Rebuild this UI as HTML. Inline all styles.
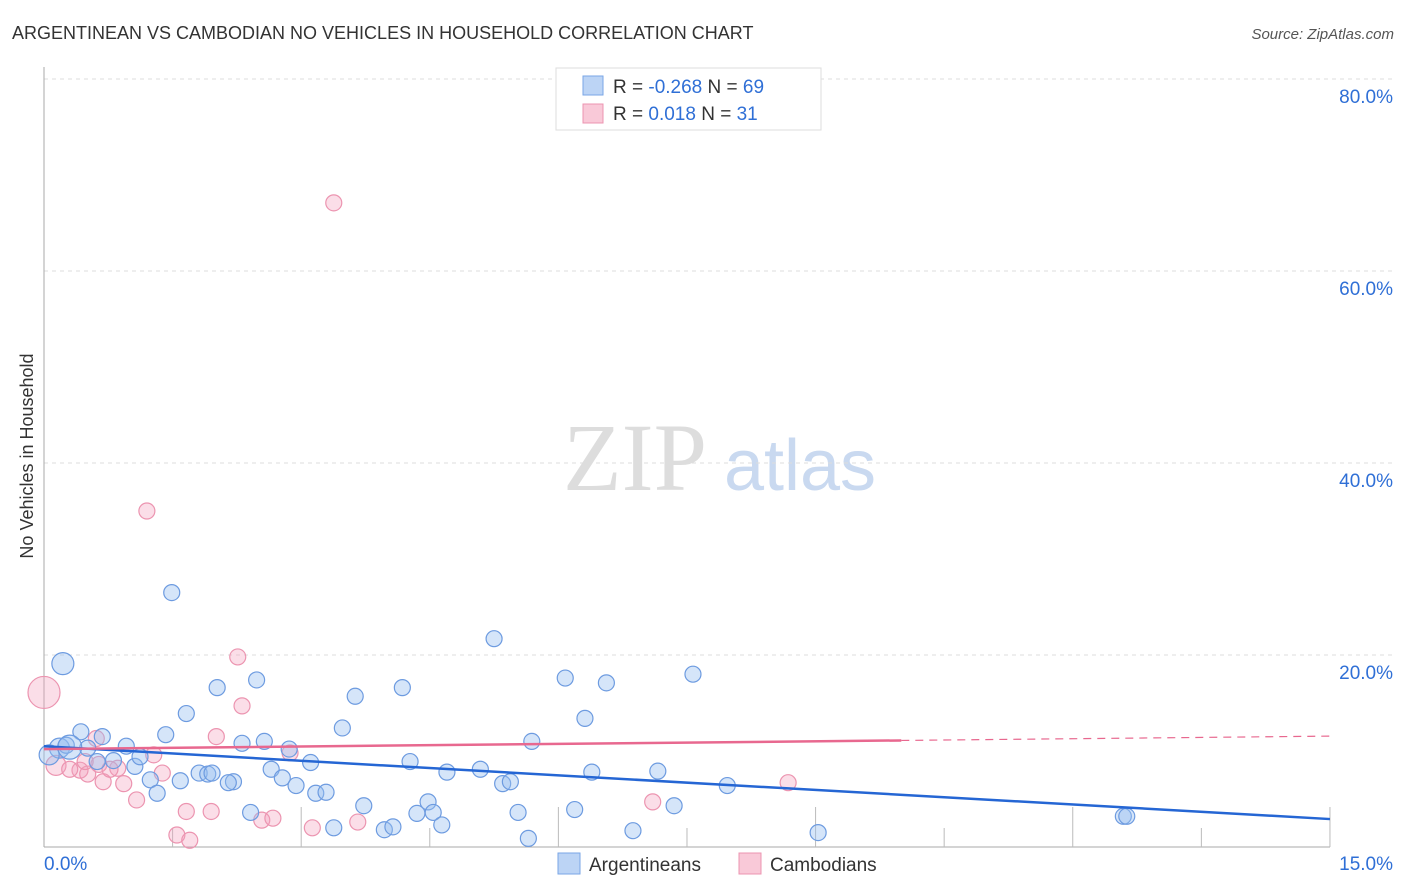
<!DOCTYPE html>
<html><head><meta charset="utf-8"><style>
body{margin:0;background:#fff;font-family:"Liberation Sans",sans-serif;}
svg{display:block}
</style></head><body>
<svg width="1406" height="892" id="chart">
<text x="12" y="39" font-size="18" fill="#333">ARGENTINEAN VS CAMBODIAN NO VEHICLES IN HOUSEHOLD CORRELATION CHART</text>
<text x="1394" y="39" font-size="15" fill="#555" font-style="italic" text-anchor="end">Source: ZipAtlas.com</text>
<text x="33" y="456" font-size="18" fill="#333" text-anchor="middle" transform="rotate(-90 33 456)">No Vehicles in Household</text>
<g><text x="635" y="490" font-size="96" fill="#ddd" font-family="Liberation Serif,serif" text-anchor="middle">ZIP</text><text x="800" y="490" font-size="72" fill="#c9d9f0" text-anchor="middle">atlas</text></g>
<g id="grid"></g><g id="marks"></g>
<g>
<rect x="556" y="68" width="265" height="62" fill="#fff" stroke="#ddd"/>
<rect x="583" y="76" width="20" height="19" fill="#bcd4f5" stroke="#7aa6e6"/>
<rect x="583" y="104" width="20" height="19" fill="#f9c9d8" stroke="#ec94b0"/>
<text x="613" y="93" font-size="19" fill="#333">R = <tspan fill="#2f6fd6">-0.268</tspan>   N = <tspan fill="#2f6fd6">69</tspan></text>
<text x="613" y="120" font-size="19" fill="#333">R =   <tspan fill="#2f6fd6">0.018</tspan>   N =  <tspan fill="#2f6fd6">31</tspan></text>
</g>
<g>
<rect x="558" y="853" width="22" height="21" fill="#bcd4f5" stroke="#7aa6e6"/>
<text x="589" y="871" font-size="19" fill="#333">Argentineans</text>
<rect x="739" y="853" width="22" height="21" fill="#f9c9d8" stroke="#ec94b0"/>
<text x="770" y="871" font-size="19" fill="#333">Cambodians</text>
</g>
</svg>
<script>
const yTicks=[0,20,40,60,80];
const yTickLabels=["","20.0%","40.0%","60.0%","80.0%"];
const xLabels=["0.0%","15.0%"];
const argX=[0.22,1.49,5.25,6.08,6.56,7.57,2.48,2.02,4.18,3.63,1.66,6.31,0.43,0.68,1.42,3.48,0.96,2.31,2.57,5.69,2.86,0.18,0.06,0.51,0.26,0.62,0.81,1.06,1.12,2.65,3.11,4.27,4.7,5.09,5.35,5.44,6.39,7.16,7.97,1.81,1.91,1.96,1.24,1.59,2.21,2.15,2.78,2.94,1.32,3.17,3.29,3.73,2.41,4.48,4.35,4.54,5.53,6.19,7.35,12.59,12.63,3.38,3.97,4.07,4.64,5.65,6.87,9.03,0.3];
const argY=[19.1,26.5,21.7,17.6,17.1,18.0,17.4,16.6,16.6,15.7,13.9,13.4,12.0,11.5,11.7,12.4,10.5,10.8,11.0,11.0,10.2,10.3,9.6,10.3,10.6,8.9,9.0,8.4,9.4,8.1,8.8,8.9,7.8,8.1,6.6,6.8,7.8,7.9,6.4,7.7,7.6,7.7,7.0,6.9,6.8,6.7,7.2,6.4,5.6,5.6,5.7,4.3,3.6,4.7,3.5,3.6,3.6,3.9,4.3,3.2,3.2,2.0,1.8,2.1,2.3,0.9,1.7,1.5,10.4];
const argR=[11,8,8,8,8,8,8,8,8,8,8,8,8,8,8,8,8,8,8,8,8,10,10,8,8,8,8,8,8,8,8,8,8,8,8,8,8,8,8,8,8,8,8,8,8,8,8,8,8,8,8,8,8,8,8,8,8,8,8,8,8,8,8,8,8,8,8,8,12];
const camX=[3.38,1.2,2.26,0,2.31,2.01,1.28,2.87,0.61,0.14,0.42,0.3,0.51,0.69,0.93,1.38,0.86,0.64,1.08,1.66,1.95,2.54,2.67,3.13,3.66,1.55,1.7,7.1,8.68,0.48,0.77];
const camY=[67.1,35.0,19.8,16.1,14.7,11.5,9.6,9.8,11.3,8.5,8.0,8.1,7.6,6.8,6.6,7.7,8.2,8.6,4.9,3.7,3.7,2.8,3.0,2.0,2.6,1.25,0.7,4.7,6.7,8.9,8.1];
const camR=[8,8,8,16,8,8,8,8,8,10,8,8,8,8,8,8,8,8,8,8,8,8,8,8,8,8,8,8,8,8,8];
const argLine=[10.5,-0.506];
const camLine=[10.2,0.09];
const X=v=>44+v*85.73, Y=v=>847-v*9.6;
const NS="http://www.w3.org/2000/svg";
const grid=document.getElementById('grid'), marks=document.getElementById('marks');
function mk(p,tag,a){const e=document.createElementNS(NS,tag);for(const k in a)e.setAttribute(k,a[k]);p.appendChild(e);return e;}
yTicks.forEach((t,i)=>{if(t>0){const l=mk(grid,'line',{x1:44,x2:1394,y1:Y(t),y2:Y(t),stroke:'#ddd','stroke-dasharray':'4 4'});


const tx=mk(grid,'text',{x:1393,y:Y(t)+24,'font-size':19,fill:'#2f6fd6','text-anchor':'end'});tx.textContent=yTickLabels[i];

}});
mk(grid,'line',{x1:44,x2:44,y1:67,y2:847,stroke:'#aaa'});
mk(grid,'line',{x1:44,x2:1330,y1:847,y2:847,stroke:'#aaa'});
for(let i=1;i<=10;i++){const x=X(i*1.5);mk(grid,'line',{x1:x,x2:x,y1:(i%2==0?807:828),y2:847,stroke:'#bbb'});}
const xl1=mk(grid,'text',{x:44,y:870,'font-size':19,fill:'#2f6fd6'});xl1.textContent=xLabels[0];


const xl2=mk(grid,'text',{x:1393,y:870,'font-size':19,fill:'#2f6fd6','text-anchor':'end'});xl2.textContent=xLabels[1];


camX.forEach((v,i)=>{const c=mk(marks,'circle',{cx:X(v),cy:Y(camY[i]),r:camR[i],fill:'rgba(244,160,188,0.35)',stroke:'#ec94b0','stroke-width':1.2});

});
argX.forEach((v,i)=>{const c=mk(marks,'circle',{cx:X(v),cy:Y(argY[i]),r:argR[i],fill:'rgba(150,190,240,0.4)',stroke:'#6d9be0','stroke-width':1.2});

});
const bl=mk(marks,'line',{x1:X(0),y1:Y(argLine[0]),x2:X(15),y2:Y(argLine[0]+argLine[1]*15),stroke:'#2566d4','stroke-width':2.5});


const pl=mk(marks,'line',{x1:X(0),y1:Y(camLine[0]),x2:X(10),y2:Y(camLine[0]+camLine[1]*10),stroke:'#e8688f','stroke-width':2.5});


const pd=mk(marks,'line',{x1:X(10),y1:Y(camLine[0]+camLine[1]*10),x2:X(15),y2:Y(camLine[0]+camLine[1]*15),stroke:'#e8688f','stroke-width':1.2,'stroke-dasharray':'8 6'});


</script>
</body></html>
